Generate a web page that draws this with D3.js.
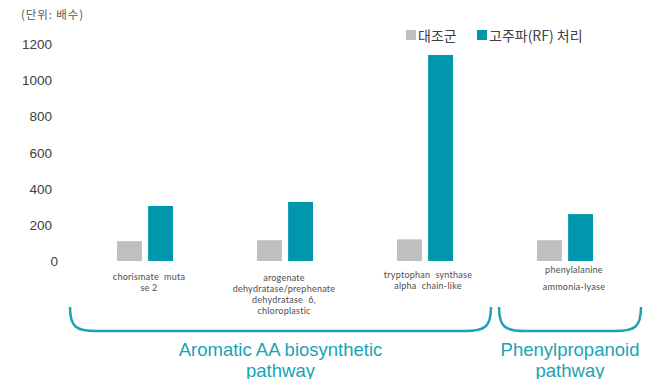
<!DOCTYPE html>
<html>
<head>
<meta charset="utf-8">
<script src="https://cdn.jsdelivr.net/npm/d3@7"></script>
<style>
  html, body { margin: 0; padding: 0; background: #fff; }
  svg { display: block; }
</style>
</head>
<body>
<svg id="chart" width="654" height="379"></svg>
<script>
// Genes of the aromatic amino acid / phenylpropanoid pathways
const categories = ["cm2", "adt6", "tsa", "pal"];
const categoryLabels = [
  ["chorismate  muta", "se 2"],
  ["arogenate", "dehydratase/prephenate", "dehydratase  6,", "chloroplastic"],
  ["tryptophan  synthase", "alpha  chain-like"],
  ["phenylalanine", "ammonia-lyase"]
];
const seriesNames = ["대조군", "고주파(RF) 처리"];
const controlValues = [110, 115, 120, 115];
const rfValues = [305, 327, 1142, 260];
const yTicks = [0, 200, 400, 600, 800, 1000, 1200];
const unitLabel = "(단위: 배수)";
const pathwayGroups = [
  { name: ["Aromatic AA biosynthetic", "pathway"], from: "cm2", to: "tsa" },
  { name: ["Phenylpropanoid", "pathway"], from: "pal", to: "pal" }
];

const colors = ["#bfbfbf", "#0097ad"];
const accent = "#1aa3b3";

const svg = d3.select("#chart");

const x0 = d3.scaleBand().domain(categories).range([75, 635]);
const x1 = d3.scaleBand().domain([0, 1]).range([0, 56]).paddingInner(0.2);
const y = d3.scaleLinear().domain([0, 1200]).range([261, 44.5]);

// Unit note
svg.append("text")
  .attr("x", 21).attr("y", 19)
  .attr("font-family", "'Noto Sans CJK KR', sans-serif")
  .attr("font-size", 11.5)
  .attr("letter-spacing", 0.9)
  .attr("fill", "#595959")
  .text(unitLabel);

// Y axis (labels only)
const yAxis = svg.append("g")
  .attr("transform", "translate(52,0)")
  .call(d3.axisLeft(y).tickValues(yTicks).tickSize(0).tickPadding(0).tickFormat(d3.format("d")));
yAxis.select(".domain").remove();
yAxis.selectAll("text")
  .attr("font-family", "'Liberation Sans', Arial, sans-serif")
  .attr("font-size", 13.5)
  .attr("fill", "#404040")
  .attr("dx", d => d === 0 ? 6 : 0);

// Bars
const groups = svg.append("g").selectAll("g")
  .data(categories)
  .join("g")
  .attr("transform", d => `translate(${x0(d) + x0.bandwidth() / 2 - 28},0)`);

groups.selectAll("rect")
  .data((d, i) => [controlValues[i], rfValues[i]].map((v, s) => ({ v, s })))
  .join("rect")
  .attr("x", d => x1(d.s))
  .attr("width", x1.bandwidth())
  .attr("y", d => y(d.v))
  .attr("height", d => y(0) - y(d.v))
  .attr("fill", d => colors[d.s]);

// Category labels, one text element per line
const labelLayout = [
  { dx: 4, top: 280, gap: 11 },
  { dx: -1, top: 280.5, gap: 11 },
  { dx: 3, top: 277.5, gap: 11.5 },
  { dx: 9, top: 272.5, gap: 17.5 }
];
const labelLines = categories.flatMap((c, i) =>
  categoryLabels[i].map((t, k) => ({ c, i, k, t })));
svg.append("g").selectAll("text")
  .data(labelLines)
  .join("text")
  .attr("font-family", "Lato, 'Open Sans', sans-serif")
  .attr("font-size", 9)
  .attr("letter-spacing", 0.25)
  .attr("fill", "#4d4d4d")
  .attr("text-anchor", "middle")
  .attr("xml:space", "preserve")
  .style("white-space", "pre")
  .attr("x", d => x0(d.c) + x0.bandwidth() / 2 + labelLayout[d.i].dx)
  .attr("y", d => labelLayout[d.i].top + d.k * labelLayout[d.i].gap)
  .text(d => d.t);

// Pathway brackets
const bracketTop = 307, bracketBottom = 331;
pathwayGroups.forEach((g, gi) => {
  const left = gi === 0 ? x0(g.from) - 5 : x0(g.from) + 4;
  const right = gi === 0 ? x0(g.to) + x0.bandwidth() - 4 : x0(g.to) + x0.bandwidth() + 6;
  const r = 26;
  const p = d3.path();
  p.moveTo(left, bracketTop);
  p.bezierCurveTo(left, bracketBottom - 4, left + 6, bracketBottom, left + r, bracketBottom);
  p.lineTo(right - r, bracketBottom);
  p.bezierCurveTo(right - 6, bracketBottom, right, bracketBottom - 4, right, bracketTop);
  svg.append("path")
    .attr("d", p.toString())
    .attr("fill", "none")
    .attr("stroke", accent)
    .attr("stroke-width", 2.5);

  const cx = (left + right) / 2;
  svg.append("g").selectAll("text")
    .data(g.name)
    .join("text")
    .attr("text-anchor", "middle")
    .attr("font-family", "'Liberation Sans', Arial, sans-serif")
    .attr("font-size", 18.5)
    .attr("fill", accent)
    .attr("x", cx)
    .attr("y", (t, k) => 356 + k * 20.5)
    .text(t => t);
});

// Legend
const legendX = [406, 477];
const legend = svg.append("g").selectAll("g")
  .data(seriesNames)
  .join("g")
  .attr("transform", (d, i) => `translate(${legendX[i]},30)`);
legend.append("rect")
  .attr("width", 10).attr("height", 10)
  .attr("fill", (d, i) => colors[i]);
legend.append("text")
  .attr("x", 12).attr("y", 10.5)
  .attr("font-family", "'Noto Sans CJK KR', sans-serif")
  .attr("font-size", 14)
  .attr("fill", "#404040")
  .text(d => d);
</script>
</body>
</html>
